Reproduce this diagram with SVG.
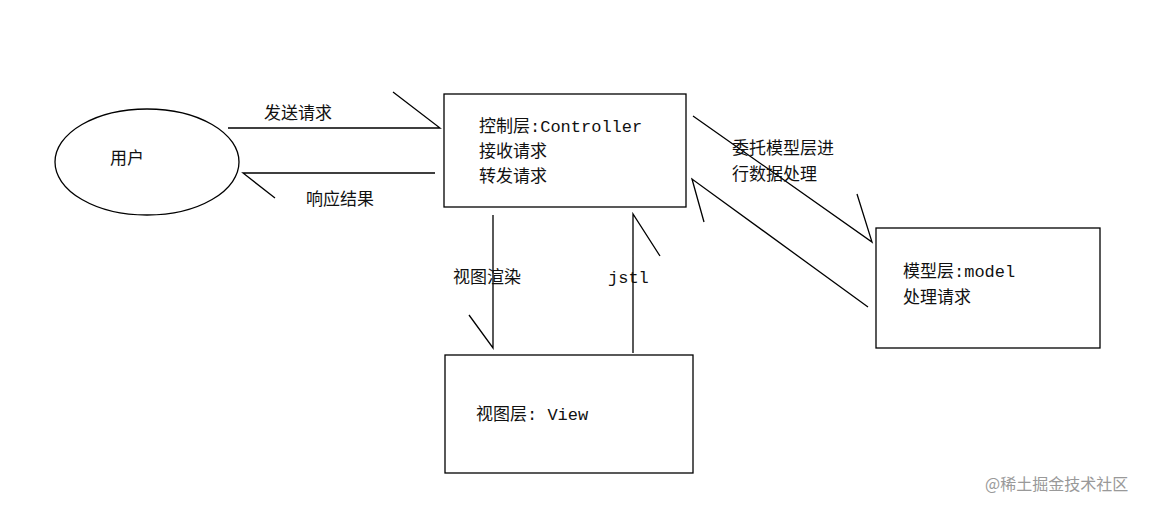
<svg xmlns="http://www.w3.org/2000/svg" width="1163" height="510" viewBox="0 0 1163 510">
<style>
.s{fill:none;stroke:#000;stroke-width:1.3}
text{font-family:"Liberation Mono","Noto Sans CJK SC",monospace;font-size:17px;fill:#111}
</style>
<rect width="1163" height="510" fill="#fff"/>
<g id="user"><ellipse class="s" cx="147" cy="162" rx="92" ry="53"/><text x="110" y="164">用户</text></g>
<g id="controller"><rect class="s" x="444" y="94" width="242" height="113"/>
<text x="479" y="132">控制层:Controller</text><text x="479" y="157">接收请求</text><text x="479" y="182">转发请求</text></g>
<g id="model"><rect class="s" x="876" y="228" width="224" height="120"/>
<text x="903" y="277">模型层:model</text><text x="903" y="303">处理请求</text></g>
<g id="view"><rect class="s" x="445" y="355" width="248" height="118"/>
<text x="476" y="420">视图层: View</text></g>
<g id="connectors" class="s">
<path d="M228 128H440L393 92"/>
<path d="M435 173H243L275 198"/>
<path d="M493 215V348L469 315"/>
<path d="M633 353V214L660 256"/>
<path d="M693 116L872 242L857 194"/>
<path d="M868 307L692 179L704 222"/>
</g>
<g id="labels">
<text x="264" y="119">发送请求</text>
<text x="306" y="205">响应结果</text>
<text x="453" y="283">视图渲染</text>
<text x="608" y="283">jstl</text>
<text x="732" y="154">委托模型层进</text>
<text x="732" y="180">行数据处理</text>
</g>
<text x="985" y="490" style="fill:#999;font-size:16px;font-family:'Noto Sans CJK SC',sans-serif">@稀土掘金技术社区</text>
</svg>
